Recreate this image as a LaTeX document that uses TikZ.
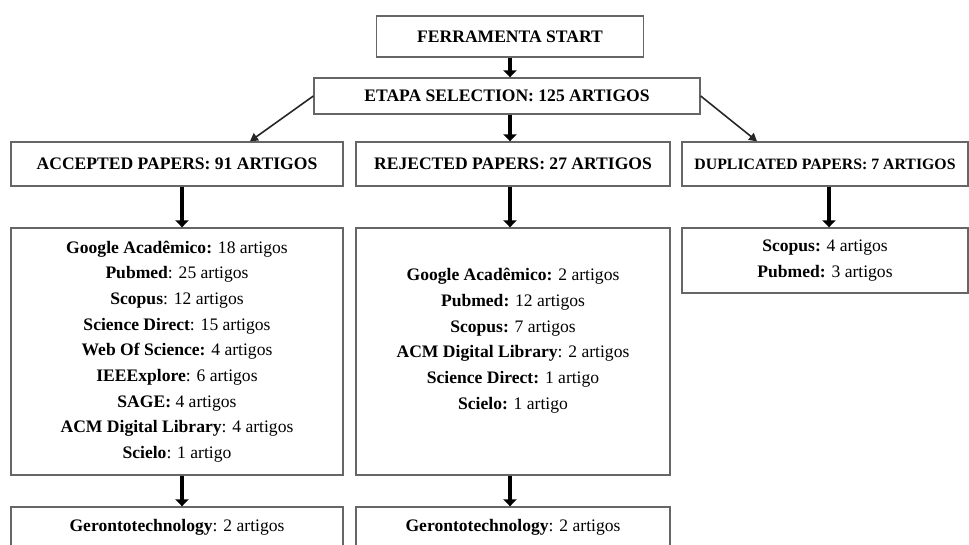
\documentclass[tikz,border=0pt]{standalone}
\usepackage{fontspec}
\setmainfont{Liberation Serif}
\usetikzlibrary{arrows.meta}

\tikzset{
  box/.style={draw=black!60, line width=0.8pt, fill=white, align=center, inner sep=2pt},
  head/.style={box, font=\bfseries\fontsize{10}{12}\selectfont},
  list/.style={box, font=\fontsize{10}{14.6}\selectfont},
  fat/.style={line width=2.8pt, -{Triangle[width=7.5pt,length=4pt]}},
  link/.style={line width=0.9pt, draw=black!85, -{Triangle[width=5pt,length=4.5pt]}},
}

\begin{document}
\begin{tikzpicture}[x=0.02cm,y=-0.02cm]
	\useasboundingbox (0,0) rectangle (969,544);

	%top------------------------------------
	\node[head, minimum width=5.34cm, minimum height=0.82cm] (start) at (510,36.5) {FERRAMENTA START}; %start label
	\node[head, minimum width=7.72cm, minimum height=0.72cm] (sel) at (507,96) {ETAPA SELECTION: 125 ARTIGOS}; %selection label

	%headers--------------------------------
	\node[head, minimum width=6.64cm, minimum height=0.88cm] (acc) at (177,164) {ACCEPTED PAPERS: 91 ARTIGOS}; %accepted
	\node[head, minimum width=6.28cm, minimum height=0.88cm] (rej) at (513,164) {REJECTED PAPERS: 27 ARTIGOS}; %rejected
	\node[head, minimum width=5.72cm, minimum height=0.88cm, font=\bfseries\fontsize{9}{11}\selectfont] (dup) at (825,164) {DUPLICATED PAPERS: 7 ARTIGOS}; %duplicated

	%lists----------------------------------
	\node[list, minimum width=6.64cm, minimum height=4.94cm] (acclist) at (177,351.5) {%
		\textbf{Google Acadêmico:} 18 artigos\\
		\textbf{Pubmed}: 25 artigos\\
		\textbf{Scopus}: 12 artigos\\
		\textbf{Science Direct}: 15 artigos\\
		\textbf{Web Of Science:} 4 artigos\\
		\textbf{IEEExplore}: 6 artigos\\
		\textbf{SAGE:} 4 artigos\\
		\textbf{ACM Digital Library}: 4 artigos\\
		\textbf{Scielo}: 1 artigo}; %accepted list
	\node[list, minimum width=6.28cm, minimum height=4.94cm] (rejlist) at (513,351.5) {%
		\textbf{Google Acadêmico:} 2 artigos\\
		\textbf{Pubmed:} 12 artigos\\
		\textbf{Scopus:} 7 artigos\\
		\textbf{ACM Digital Library}: 2 artigos\\
		\textbf{Science Direct:} 1 artigo\\
		\textbf{Scielo:} 1 artigo\\
		\mbox{}}; %rejected list
	\node[list, minimum width=5.72cm, minimum height=1.3cm] (duplist) at (825,260.5) {%
		\textbf{Scopus:} 4 artigos\\
		\textbf{Pubmed:} 3 artigos}; %duplicated list

	%bottom---------------------------------
	\node[list, minimum width=6.64cm, minimum height=0.8cm] (accger) at (177,527) {\textbf{Gerontotechnology}: 2 artigos}; %accepted bottom
	\node[list, minimum width=6.28cm, minimum height=0.8cm] (rejger) at (513,527) {\textbf{Gerontotechnology}: 2 artigos}; %rejected bottom

	%arrows---------------------------------
	\draw[fat] (start.south) -- (start.south |- sel.north);
	\draw[fat] ([xshift=-0.06cm]rej.north |- sel.south) -- ([xshift=-0.06cm]rej.north);
	\draw[link] (sel.west) -- ([xshift=1.46cm]acc.north);
	\draw[link] (sel.east) -- ([xshift=-1.36cm]dup.north);
	\draw[fat] ([xshift=0.1cm]acc.south) -- ([xshift=0.1cm]acclist.north);
	\draw[fat] ([xshift=-0.06cm]rej.south) -- ([xshift=-0.06cm]rejlist.north);
	\draw[fat] ([xshift=0.08cm]dup.south) -- ([xshift=0.08cm]duplist.north);
	\draw[fat] ([xshift=0.1cm]acclist.south) -- ([xshift=0.1cm]accger.north);
	\draw[fat] ([xshift=-0.06cm]rejlist.south) -- ([xshift=-0.06cm]rejger.north);
\end{tikzpicture}
\end{document}
